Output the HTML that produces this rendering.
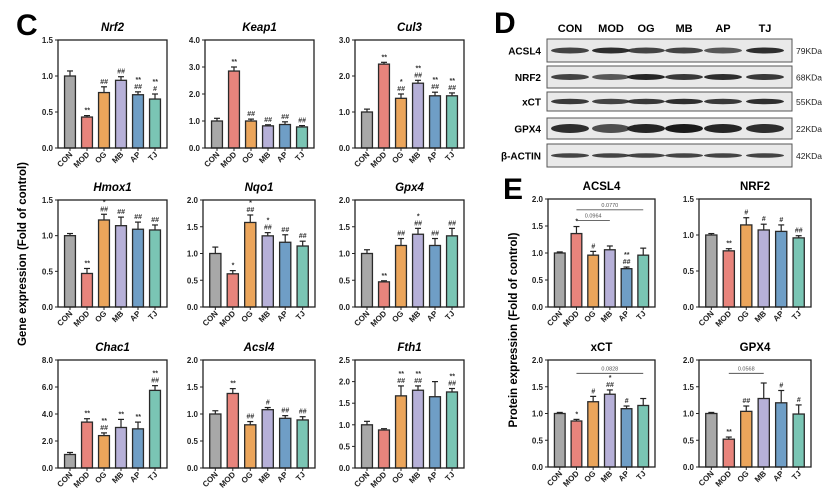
<!DOCTYPE html>
<html><head><meta charset="utf-8"><style>
body{margin:0;background:#fff;}
svg{display:block;font-family:"Liberation Sans",Arial,sans-serif;}
</style></head><body>
<svg id="fig" width="830" height="497" viewBox="0 0 830 497" xmlns="http://www.w3.org/2000/svg">
<text x="16" y="35" font-size="30" font-weight="bold">C</text>
<text x="494" y="33" font-size="30" font-weight="bold">D</text>
<text x="503" y="199" font-size="30" font-weight="bold">E</text>
<text transform="translate(26,254) rotate(-90)" text-anchor="middle" font-size="11.5" font-weight="bold">Gene expression (Fold of control)</text>
<text transform="translate(517,330) rotate(-90)" text-anchor="middle" font-size="11.5" font-weight="bold">Protein expression (Fold of control)</text>
<g id="blot"></g>
<g id="charts"></g>
</svg>
<script>
const groups = ["CON","MOD","OG","MB","AP","TJ"];
const colors = ["#a8a8a8","#e8847c","#eba55b","#b6b0d8","#6f9ec6","#7ac5b4"];
const nrf2Vals = [1.0,0.43,0.77,0.94,0.74,0.68];
const nrf2Err = [0.07,0.02,0.08,0.05,0.04,0.07];
const keap1Vals = [1.0,2.85,1.0,0.82,0.87,0.78];
const keap1Err = [0.1,0.15,0.07,0.04,0.1,0.05];
const cul3Vals = [1.0,2.33,1.38,1.8,1.45,1.45];
const cul3Err = [0.08,0.05,0.12,0.08,0.1,0.08];
const hmox1Vals = [1.0,0.47,1.22,1.14,1.09,1.08];
const hmox1Err = [0.03,0.07,0.08,0.12,0.1,0.07];
const nqo1Vals = [1.0,0.62,1.58,1.33,1.21,1.14];
const nqo1Err = [0.12,0.06,0.14,0.06,0.14,0.09];
const gpx4Vals = [1.0,0.47,1.15,1.36,1.15,1.33];
const gpx4Err = [0.07,0.02,0.13,0.11,0.13,0.14];
const chac1Vals = [1.0,3.4,2.4,3.0,2.9,5.75];
const chac1Err = [0.15,0.25,0.2,0.6,0.5,0.35];
const acsl4Vals = [1.0,1.38,0.8,1.08,0.92,0.89];
const acsl4Err = [0.06,0.09,0.06,0.04,0.05,0.06];
const fth1Vals = [1.0,0.88,1.67,1.8,1.65,1.76];
const fth1Err = [0.08,0.03,0.23,0.1,0.35,0.08];
const pAcsl4Vals = [1.0,1.36,0.96,1.06,0.71,0.96];
const pAcsl4Err = [0.02,0.13,0.07,0.07,0.03,0.13];
const pNrf2Vals = [1.0,0.78,1.14,1.07,1.05,0.96];
const pNrf2Err = [0.02,0.03,0.1,0.08,0.09,0.03];
const pXctVals = [1.0,0.86,1.22,1.36,1.09,1.15];
const pXctErr = [0.02,0.03,0.1,0.08,0.05,0.13];
const pGpx4Vals = [1.0,0.52,1.04,1.28,1.2,0.99];
const pGpx4Err = [0.02,0.04,0.1,0.29,0.23,0.17];

const NS="http://www.w3.org/2000/svg";
function mk(tag,attrs,parent,text){const e=document.createElementNS(NS,tag);for(const k in attrs)e.setAttribute(k,attrs[k]);if(text!==undefined)e.textContent=text;parent.appendChild(e);return e;}

const charts=[
 {name:"Nrf2",it:true,x:58,y:40,w:109,h:108,max:1.5,ticks:[0,0.5,1,1.5],v:nrf2Vals,e:nrf2Err,a:["","**","##","##","**|##","**|#"]},
 {name:"Keap1",it:true,x:205,y:40,w:109,h:108,max:4,ticks:[0,1,2,3,4],v:keap1Vals,e:keap1Err,a:["","**","##","##","##","##"]},
 {name:"Cul3",it:true,x:355,y:40,w:109,h:108,max:3,ticks:[0,1,2,3],v:cul3Vals,e:cul3Err,a:["","**","*|##","**|##","**|##","**|##"]},
 {name:"Hmox1",it:true,x:58,y:200,w:109,h:107,max:1.5,ticks:[0,0.5,1,1.5],v:hmox1Vals,e:hmox1Err,a:["","**","*|##","##","##","##"]},
 {name:"Nqo1",it:true,x:203,y:200,w:112,h:107,max:2,ticks:[0,0.5,1,1.5,2],v:nqo1Vals,e:nqo1Err,a:["","*","*|##","*|##","##","##"]},
 {name:"Gpx4",it:true,x:355,y:200,w:109,h:107,max:2,ticks:[0,0.5,1,1.5,2],v:gpx4Vals,e:gpx4Err,a:["","**","##","*|##","##","##"]},
 {name:"Chac1",it:true,x:58,y:360,w:109,h:108,max:8,ticks:[0,2,4,6,8],v:chac1Vals,e:chac1Err,a:["","**","**|##","**","**","**|##"]},
 {name:"Acsl4",it:true,x:203,y:360,w:112,h:108,max:2,ticks:[0,0.5,1,1.5,2],v:acsl4Vals,e:acsl4Err,a:["","**","##","#","##","##"]},
 {name:"Fth1",it:true,x:355,y:360,w:109,h:108,max:2.5,ticks:[0,0.5,1,1.5,2,2.5],v:fth1Vals,e:fth1Err,a:["","","**|##","**|##","","**|##"]},
 {name:"ACSL4",it:false,x:548,y:199,w:107,h:108,max:2,ticks:[0,0.5,1,1.5,2],v:pAcsl4Vals,e:pAcsl4Err,a:["","*","#","","**|##",""],br:[[1,3,1.6,"0.0964"],[1,5,1.8,"0.0770"]]},
 {name:"NRF2",it:false,x:699,y:199,w:112,h:108,max:1.5,ticks:[0,0.5,1,1.5],v:pNrf2Vals,e:pNrf2Err,a:["","**","#","#","#","##"]},
 {name:"xCT",it:false,x:548,y:360,w:107,h:107,max:2,ticks:[0,0.5,1,1.5,2],v:pXctVals,e:pXctErr,a:["","*","#","*|##","#",""],br:[[1,5,1.75,"0.0828"]]},
 {name:"GPX4",it:false,x:699,y:360,w:112,h:107,max:2,ticks:[0,0.5,1,1.5,2],v:pGpx4Vals,e:pGpx4Err,a:["","**","##","","#","#"],br:[[1,3,1.75,"0.0568"]]}
];
const root=document.getElementById("charts");
charts.forEach(c=>{
 const g=mk("g",{},root);
 
 
 const ys=v=>c.y+c.h-v/c.max*c.h;
 const xs=i=>c.x+c.w*(0.11+i*0.156);
 const bw=c.w*0.1;
 const t=mk("text",{x:c.x+c.w/2,y:c.y-9,"text-anchor":"middle","font-size":11.5,"font-weight":"bold","font-style":c.it?"italic":"normal"},g,c.name);
 
 
 c.ticks.forEach(tv=>{
  mk("line",{x1:c.x-3,x2:c.x,y1:ys(tv),y2:ys(tv),stroke:"#222","stroke-width":1},g);
  const tl=mk("text",{x:c.x-5,y:ys(tv)+3,"text-anchor":"end","font-size":8,"font-weight":"bold",fill:"#222"},g,tv.toFixed(1));
  
  
 });
 c.v.forEach((v,i)=>{
  const cx=xs(i);
  const eTop=ys(v+c.e[i]);
  mk("line",{x1:cx,x2:cx,y1:ys(v),y2:eTop,stroke:"#222","stroke-width":1.2},g);
  mk("line",{x1:cx-3,x2:cx+3,y1:eTop,y2:eTop,stroke:"#222","stroke-width":1.2},g);
  const r=mk("rect",{x:cx-bw/2,y:ys(v),width:bw,height:c.y+c.h-ys(v),fill:colors[i],stroke:"#2a2a2a","stroke-width":1.3},g);
  
  
  const parts=c.a[i]?c.a[i].split("|"):[];
  parts.forEach((p,k)=>{
   mk("text",{x:cx,y:eTop-3-(parts.length-1-k)*7,"text-anchor":"middle","font-size":7,"font-style":"italic","font-weight":"bold",fill:"#333"},g,p);
  });
  mk("line",{x1:cx,x2:cx,y1:c.y+c.h,y2:c.y+c.h+3,stroke:"#222"},g);
  const xl=mk("text",{transform:`translate(${cx+3},${c.y+c.h+7}) rotate(-45)`,"text-anchor":"end","font-size":8,"font-weight":"bold",fill:"#222"},g,groups[i]);
  
  
 });
 (c.br||[]).forEach(b=>{
  const by=ys(b[2]);
  mk("line",{x1:xs(b[0]),x2:xs(b[1]),y1:by,y2:by,stroke:"#555","stroke-width":0.9},g);
  mk("text",{x:(xs(b[0])+xs(b[1]))/2,y:by-3,"text-anchor":"middle","font-size":5.5,fill:"#555"},g,b[3]);
 });
 mk("rect",{x:c.x,y:c.y,width:c.w,height:c.h,fill:"none",stroke:"#222","stroke-width":1.3},g);
});

// western blot
const lanes=[570,611,646,684,723,765];
const blotRows=["ACSL4","NRF2","xCT","GPX4","β-ACTIN"];
const blotKda=["79KDa","68KDa","55KDa","22KDa","42KDa"];
const blotBox=[[39,62],[66,88],[92,111],[118,139],[144,167]];
const bandH=[5,5,4.5,8,3.5];
const bandOp=[[0.8,0.9,0.8,0.8,0.7,0.9],[0.8,0.7,0.95,0.85,0.9,0.85],[0.85,0.8,0.85,0.9,0.85,0.9],[0.9,0.75,0.95,1,0.95,0.9],[0.8,0.8,0.8,0.8,0.8,0.8]];
const bl=document.getElementById("blot");
groups.forEach((gname,i)=>{
 const tx=mk("text",{x:lanes[i],y:32,"text-anchor":"middle","font-size":11,"font-weight":"bold"},bl,gname);
 
 
});
blotRows.forEach((n,r)=>{
 const [y0,y1]=blotBox[r];
 mk("rect",{x:547,y:y0,width:245,height:y1-y0,fill:"#e9e9e9",stroke:"#555","stroke-width":1},bl);
 const lt=mk("text",{x:541,y:(y0+y1)/2+4,"text-anchor":"end","font-size":10,"font-weight":"bold"},bl,n);
 
 
 mk("text",{x:796,y:(y0+y1)/2+3.5,"font-size":8.5,fill:"#222"},bl,blotKda[r]);
 lanes.forEach((lx,i)=>{
  mk("ellipse",{cx:lx,cy:(y0+y1)/2,rx:19,ry:bandH[r]/2+0.5,fill:"#1a1a1a","fill-opacity":bandOp[r][i]},bl);
 });
});
</script>
</body></html>
